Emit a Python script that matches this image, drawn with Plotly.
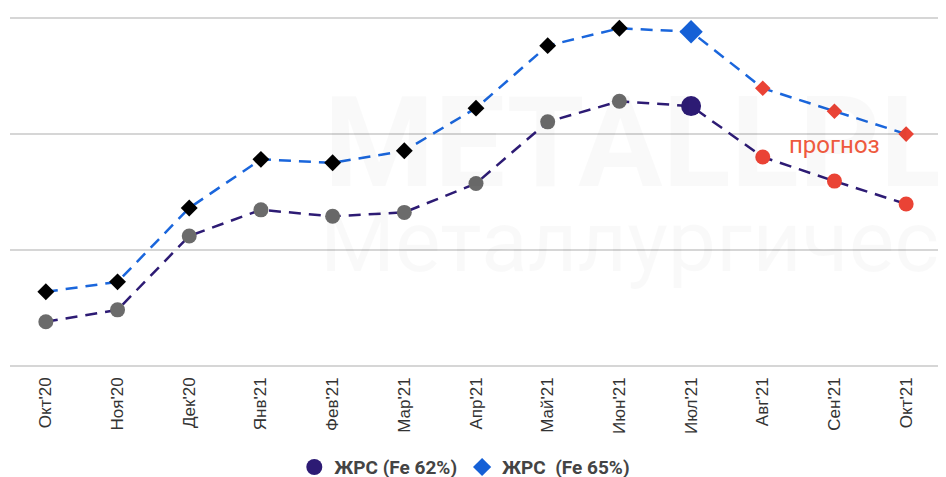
import plotly.graph_objects as go

months = ["Окт'20", "Ноя'20", "Дек'20", "Янв'21", "Фев'21", "Мар'21", "Апр'21",
          "Май'21", "Июн'21", "Июл'21", "Авг'21", "Сен'21", "Окт'21"]
fe62 = [119.0, 124.1, 156.0, 167.3, 164.5, 166.2, 178.7, 205.3, 214.2, 212.1, 190.1, 179.7, 169.8]
fe65 = [131.9, 136.2, 168.1, 189.1, 187.6, 192.8, 211.2, 238.2, 245.7, 244.2, 219.8, 209.9, 200.0]
name62 = "ЖРС (Fe 62%)"
name65 = "ЖРС  (Fe 65%)"
forecast_label = "прогноз"
grid_vals = [100, 150, 200, 250]

n = len(months)
cur = 9  # current month index (Июл'21)

c62 = ["#6b6b6b"] * n
s62 = [15] * n
c65 = ["#000000"] * n
s65 = [13] * n
for i in range(n):
    if i == cur:
        c62[i] = "#2d1b74"; s62[i] = 20
        c65[i] = "#1560d6"; s65[i] = 18
    elif i > cur:
        c62[i] = "#ea4335"; s62[i] = 15
        c65[i] = "#ea4335"; s65[i] = 12

fig = go.Figure()

# faint watermark
fig.add_annotation(xref="paper", yref="paper", x=0.335, y=0.64, xanchor="left", yanchor="middle",
                   text="<b>METALLPLANT</b>", showarrow=False,
                   font=dict(family="Roboto", size=126, color="rgba(0,0,0,0.025)"))
fig.add_annotation(xref="paper", yref="paper", x=0.33, y=0.36, xanchor="left", yanchor="middle",
                   text="Металлургический", showarrow=False,
                   font=dict(family="Roboto", size=86, color="rgba(0,0,0,0.025)"))

fig.add_trace(go.Scatter(
    x=months, y=fe65, mode="lines+markers", showlegend=False,
    line=dict(color="#1a66dc", width=2.5, dash="12px,8px"),
    marker=dict(symbol="diamond", color=c65, size=s65, opacity=1, line=dict(width=0)),
))
fig.add_trace(go.Scatter(
    x=months, y=fe62, mode="lines+markers", showlegend=False,
    line=dict(color="#2d1b74", width=2.5, dash="12px,8px"),
    marker=dict(symbol="circle", color=c62, size=s62, opacity=1, line=dict(width=0)),
))
# legend-only entries
fig.add_trace(go.Scatter(
    x=[None], y=[None], mode="markers", name=name62,
    marker=dict(symbol="circle", color="#2d1b74", size=16),
))
fig.add_trace(go.Scatter(
    x=[None], y=[None], mode="markers", name=name65,
    marker=dict(symbol="diamond", color="#1560d6", size=14),
))

fig.add_annotation(x=months[11], y=195.5, xref="x", yref="y", text=forecast_label,
                   showarrow=False, xanchor="center", yanchor="middle",
                   font=dict(family="Roboto", size=24, color="#ee5a3e"))

# page body has an 8px margin: figure is sized/offset to compensate
fig.update_layout(
    width=938, height=469,
    margin=dict(l=2, r=4, t=8, b=109, autoexpand=False),
    paper_bgcolor="white", plot_bgcolor="white",
    font=dict(family="Roboto", color="#333333"),
    legend=dict(orientation="h", x=0.488, xanchor="center", yref="container", y=0.021,
                yanchor="middle",
                font=dict(family="Roboto", size=19, color="#444444", weight="bold"),
                itemwidth=30, tracegroupgap=0),
    xaxis=dict(type="category", range=[-0.5, n - 0.5], showgrid=False, zeroline=False,
               showline=False, tickangle=-90, ticks="", ticklabelstandoff=5, automargin=False,
               tickfont=dict(family="Liberation Sans", size=17, color="#333333")),
    yaxis=dict(range=[99, 251], tickvals=grid_vals, showticklabels=False, automargin=False,
               showgrid=True, gridcolor="#d6d6d6", gridwidth=1.5, zeroline=False, showline=False,
               fixedrange=True),
)

fig.write_html("out.html")
